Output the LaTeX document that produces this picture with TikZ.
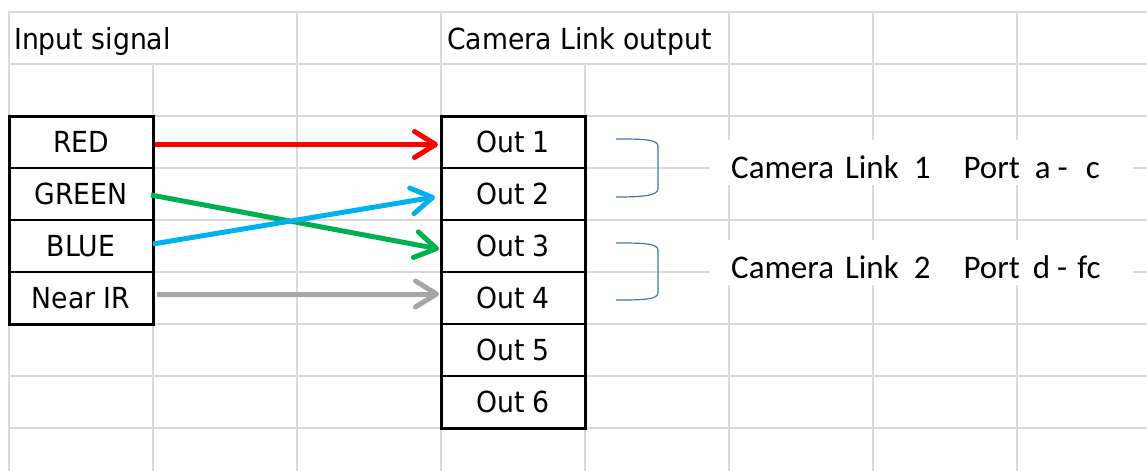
\documentclass[tikz,border=0pt]{standalone}
\usepackage{fontspec}
\setmainfont{DejaVu Sans}[FakeStretch=0.92]
\newfontfamily\linkfont{Carlito}
\usetikzlibrary{arrows.meta}
\definecolor{gridgray}{HTML}{D9D9D9}
\definecolor{sigred}{HTML}{FF0000}
\definecolor{siggreen}{HTML}{00B050}
\definecolor{sigblue}{HTML}{00B0F0}
\definecolor{siggray}{HTML}{A6A6A6}
\definecolor{bracecol}{HTML}{4472C4}
\begin{document}
\begin{tikzpicture}[x=1pt,y=-1pt,
    font=\fontsize{29}{33}\selectfont,
    cell/.style={draw,line width=1.8pt,minimum width=144pt,minimum height=52pt,inner sep=0pt,outer sep=0pt},
    sig/.style={line width=5pt,-{Straight Barb[length=21pt,width=26pt,round]}},
    linkbox/.style={fill=white,anchor=north west,inner sep=0pt,inner xsep=21pt,text width=381pt,
      text height=38pt,text depth=7pt,align=left,font=\linkfont\fontsize{33}{36}\selectfont}]
  \useasboundingbox (0,0) rectangle (1147,471);
  % sheet grid
  \begin{scope}[gridgray,line width=1.5pt]
    \foreach \y in {12,64,116,168,220,272,324,376,428}
      \draw (8,\y) -- (1147,\y);
    \foreach \x in {9,297,441,729,873,1017}
      \draw (\x,12) -- (\x,471);
    \foreach \x in {153,585}
      \draw (\x,64) -- (\x,471);
  \end{scope}
  \node[anchor=base west,inner sep=0pt] (insig) at (14,49) {Input signal};
  \node[anchor=base west,inner sep=0pt] (clout) at (447,49) {Camera Link output};
  % inputs
  \node[cell] (red) at (81,142) {RED};
  \node[cell] (green) at (81,194) {GREEN};
  \node[cell] (blue) at (81,246) {BLUE};
  \node[cell] (nir) at (81,298) {Near IR};
  \draw[line width=3pt] (red.north west) rectangle (nir.south east);
  % outputs
  \foreach \i in {1,...,6}
    \node[cell] (out\i) at (513,{142+52*(\i-1)}) {Out \i};
  \draw[line width=3pt] (out1.north west) rectangle (out6.south east);
  \draw[sig,sigred] ([shift={(2,2.5)}]red.east) -- ([shift={(-3,2.5)}]out1.west);
  \draw[sig,siggreen] ([shift={(-2,1)}]green.east) -- ([shift={(-2,3)}]out3.west);
  \draw[sig,sigblue] ([shift={(0,-2)}]blue.east) -- ([shift={(-6,3)}]out2.west);
  \draw[sig,siggray] ([shift={(4,-4)}]nir.east) -- ([shift={(-2,-4)}]out4.west);
  % brackets
  \begin{scope}[bracecol,line width=1.2pt]
    \draw (616,139) .. controls (640,139) and (658,139) .. (658,146) -- (658,189)
      .. controls (658,196) and (640,197) .. (616,197);
    \draw (616,243) .. controls (640,243) and (658,243) .. (658,250) -- (658,293)
      .. controls (658,300) and (640,300) .. (616,300);
  \end{scope}
  \node[linkbox] (link1) at (710,140) {Camera Link\hspace{15pt}1\hspace{33pt}Port\hspace{15pt}a\hspace{7pt}-\hspace{18pt}c};
  \node[linkbox] (link2) at (710,240) {Camera Link\hspace{15pt}2\hspace{33pt}Port\hspace{13pt}d\hspace{7pt}-\hspace{10pt}fc};
\end{tikzpicture}
\end{document}
